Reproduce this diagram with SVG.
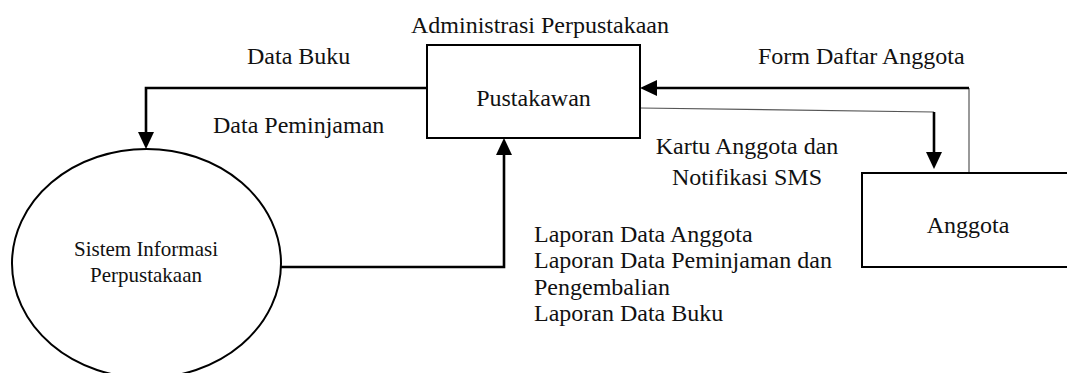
<svg xmlns="http://www.w3.org/2000/svg" width="1067" height="373" viewBox="0 0 1067 373">
<style>
text{font-family:"Liberation Serif","Times New Roman",serif;font-size:24px;fill:#111}
.node{fill:#fff;stroke:#000;stroke-width:2}
.thick{fill:none;stroke:#000;stroke-width:2.6}
.thin{fill:none;stroke:#555;stroke-width:1.2}
.small{font-size:21px}
</style>
<defs>
<marker id="arr" markerUnits="userSpaceOnUse" markerWidth="17" markerHeight="16" viewBox="0 0 17 16" refX="13" refY="8" orient="auto">
<path d="M0,0 L17,8 L0,16 z" fill="#000"/>
</marker>
</defs>
<rect width="1067" height="373" fill="#fff"/>
<g id="connectors">
<path class="thick" d="M427,88 H146 V145" marker-end="url(#arr)"/>
<path class="thick" d="M281,267 H504 V142" marker-end="url(#arr)"/>
<path class="thin" d="M969,88 V173"/>
<path class="thick" d="M969,88 H644" marker-end="url(#arr)"/>
<path class="thin" d="M640,108 L934,112"/>
<path class="thick" d="M934,112 V165" marker-end="url(#arr)"/>
<text x="247" y="64">Data Buku</text>
<text x="213" y="133">Data Peminjaman</text>
<text x="758" y="64">Form Daftar Anggota</text>
<text x="747" y="154" text-anchor="middle">Kartu Anggota dan</text>
<text x="747" y="185" text-anchor="middle">Notifikasi SMS</text>
<text x="534" y="242">Laporan Data Anggota</text>
<text x="534" y="268">Laporan Data Peminjaman dan</text>
<text x="534" y="295">Pengembalian</text>
<text x="534" y="321">Laporan Data Buku</text>
</g>
<g id="pustakawan">
<text x="411" y="33">Administrasi Perpustakaan</text>
<rect class="node" x="427" y="45" width="213" height="93"/>
<text x="533.5" y="106" text-anchor="middle">Pustakawan</text>
</g>
<g id="anggota">
<rect class="node" x="862" y="173" width="230" height="94"/>
<text x="968" y="233" text-anchor="middle">Anggota</text>
</g>
<g id="sistem">
<ellipse class="node" cx="146.5" cy="263.5" rx="134.5" ry="114.5"/>
<text class="small" x="146" y="256" text-anchor="middle">Sistem Informasi</text>
<text class="small" x="146" y="282" text-anchor="middle">Perpustakaan</text>
</g>
</svg>
